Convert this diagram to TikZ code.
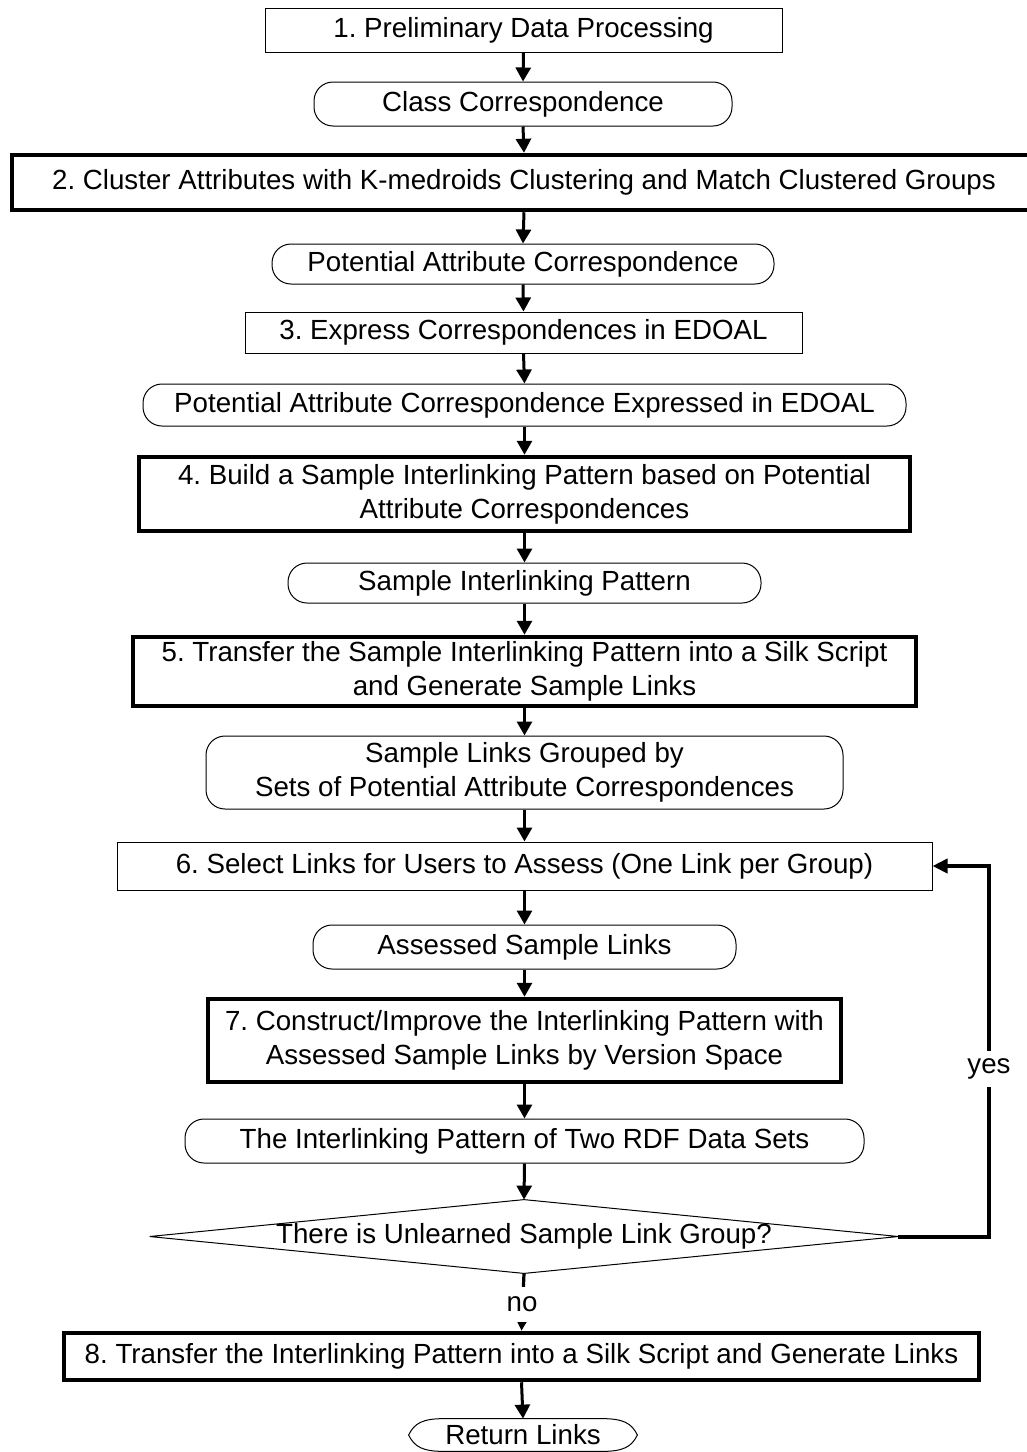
\documentclass[tikz,border=0pt]{standalone}
\usepackage{fontspec}
\setmainfont{Liberation Sans}
\usetikzlibrary{arrows.meta}
\begin{document}
\frenchspacing
\begin{tikzpicture}[x=0.5pt,y=-0.5pt,
  every node/.style={font=\fontsize{13.85pt}{17pt}\selectfont, align=center, inner sep=0pt},
  procthin/.style={draw, line width=0.5pt},
  procthick/.style={draw, line width=2.25pt},
  term/.style={draw, line width=0.5pt, rounded corners=9.5pt},
  arr/.style={-{Triangle[length=7pt,width=7.5pt]}, line width=1.5pt},
  arrsmall/.style={-{Triangle[length=5.5pt,width=5.5pt]}, line width=1.6pt},
  looparr/.style={-{Triangle[length=7.5pt,width=7pt]}, line width=2pt},
  lbl/.style={fill=white, inner xsep=1pt}
]
\useasboundingbox (0,0) rectangle (1027,1452);
\fill[white] (0,0) rectangle (1027,1452);

\node[procthin, minimum width=258.5pt, minimum height=22pt] (n1) at (523.5,30) {1. Preliminary Data Processing};
\node[term, minimum width=209pt, minimum height=22pt] (c1) at (523,104) {Class Correspondence};
\node[procthick, minimum width=512pt, minimum height=27.5pt] (n2) at (524,182.5) {2. Cluster Attributes with K-medroids Clustering and Match Clustered Groups};
\node[term, minimum width=251pt, minimum height=20pt] (c2) at (523,264) {Potential Attribute Correspondence};
\node[procthin, minimum width=278.5pt, minimum height=20.5pt] (n3) at (523.5,332.5) {3. Express Correspondences in EDOAL};
\node[term, minimum width=381.5pt, minimum height=21pt] (c3) at (524.5,405) {Potential Attribute Correspondence Expressed in EDOAL};
\node[procthick, minimum width=385.5pt, minimum height=37pt] (n4) at (524.5,494) {4. Build a Sample Interlinking Pattern based on Potential\\Attribute Correspondences};
\node[term, minimum width=236.5pt, minimum height=20pt] (c4) at (524.5,583) {Sample Interlinking Pattern};
\node[procthick, minimum width=391.5pt, minimum height=34.5pt] (n5) at (524.5,671.5) {5. Transfer the Sample Interlinking Pattern into a Silk Script\\and Generate Sample Links};
\node[term, minimum width=318.5pt, minimum height=36.5pt] (c5) at (524.5,772.5) {Sample Links Grouped by\\Sets of Potential Attribute Correspondences};
\node[procthin, minimum width=407.5pt, minimum height=24pt] (n6) at (524.5,866) {6. Select Links for Users to Assess (One Link per Group)};
\node[term, minimum width=211.5pt, minimum height=22pt] (c6) at (524.5,947) {Assessed Sample Links};
\node[procthick, minimum width=316.5pt, minimum height=41.5pt] (n7) at (524.5,1040.5) {7. Construct/Improve the Interlinking Pattern with\\Assessed Sample Links by Version Space};
\node[term, minimum width=339.5pt, minimum height=22pt] (c7) at (524.5,1141) {The Interlinking Pattern of Two RDF Data Sets};
\node[minimum width=374pt, minimum height=36.5pt] (d) at (524,1236.5) {There is Unlearned Sample Link Group?};
\draw[line width=0.5pt] (d.west) -- (d.north) -- (d.east) -- (d.south) -- cycle;
\node[procthick, minimum width=457.5pt, minimum height=23.5pt] (n8) at (521.5,1356.5) {8. Transfer the Interlinking Pattern into a Silk Script and Generate Links};
\node[minimum width=114pt, minimum height=16pt] (r) at (523,1435) {Return Links};
\draw[line width=0.5pt] (r.west)
  .. controls ([xshift=3pt,yshift=6pt]r.west) and ([xshift=7pt]r.north west) .. ([xshift=18pt]r.north west)
  -- ([xshift=-18pt]r.north east)
  .. controls ([xshift=-7pt]r.north east) and ([xshift=-3pt,yshift=6pt]r.east) .. (r.east)
  .. controls ([xshift=-3pt,yshift=-6pt]r.east) and ([xshift=-7pt]r.south east) .. ([xshift=-18pt]r.south east)
  -- ([xshift=18pt]r.south west)
  .. controls ([xshift=7pt]r.south west) and ([xshift=3pt,yshift=-6pt]r.west) .. (r.west);

\draw[arr] (n1.south) -- (c1.north);
\draw[arr] (c1.south) -- (n2.north);
\draw[arr] (n2.south) -- (c2.north);
\draw[arr] (c2.south) -- (n3.north);
\draw[arr] (n3.south) -- (c3.north);
\draw[arr] (c3.south) -- (n4.north);
\draw[arr] (n4.south) -- (c4.north);
\draw[arr] (c4.south) -- (n5.north);
\draw[arr] (n5.south) -- (c5.north);
\draw[arr] (c5.south) -- (n6.north);
\draw[arr] (n6.south) -- (c6.north);
\draw[arr] (c6.south) -- (n7.north);
\draw[arr] (n7.south) -- (c7.north);
\draw[arr] (c7.south) -- (d.north);
\draw[arrsmall] (d.south) -- (n8.north);
\node[lbl, minimum height=17.5pt] (no) at (522,1304.5) {no};
\draw[arr] (n8.south) -- (r.north);
\coordinate (lc) at (989,1236.5);
\draw[looparr] (d.east) -- (lc) |- (n6.east);
\node[lbl, minimum height=18pt] (yes) at (989,1069) {yes};
\end{tikzpicture}
\end{document}
